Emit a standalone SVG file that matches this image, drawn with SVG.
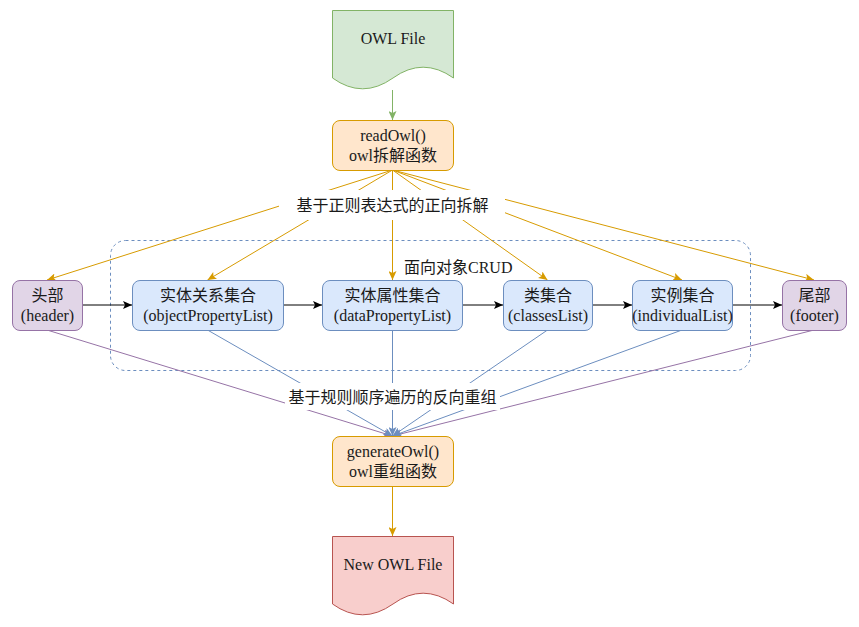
<svg xmlns="http://www.w3.org/2000/svg" width="859" height="627" viewBox="0 0 859 627">
<style>
text{font-family:"Liberation Serif","Noto Sans CJK SC",serif;font-size:16px;fill:#1a1a1a;text-anchor:middle}
.lbl{font-family:"Liberation Serif","Noto Sans CJK SC",sans-serif}
.purple{fill:#e1d5e7;stroke:#9673a6}
.blue{fill:#dae8fc;stroke:#6c8ebf}
.orange{fill:#ffe6cc;stroke:#d79b00}
.green{fill:#d5e8d4;stroke:#82b366}
.red{fill:#f8cecc;stroke:#b85450}
.e{fill:none;stroke-width:1}
</style>
<defs>
<marker id="aG" markerUnits="userSpaceOnUse" markerWidth="9" markerHeight="8" viewBox="0 0 9 8" refX="9" refY="4" orient="auto"><path d="M0,0 L9,4 L0,8 L2,4 Z" fill="#82b366"/></marker>
<marker id="aO" markerUnits="userSpaceOnUse" markerWidth="9" markerHeight="8" viewBox="0 0 9 8" refX="9" refY="4" orient="auto"><path d="M0,0 L9,4 L0,8 L2,4 Z" fill="#d79b00"/></marker>
<marker id="aK" markerUnits="userSpaceOnUse" markerWidth="9" markerHeight="8" viewBox="0 0 9 8" refX="9" refY="4" orient="auto"><path d="M0,0 L9,4 L0,8 L2,4 Z" fill="#000"/></marker>
<marker id="aB" markerUnits="userSpaceOnUse" markerWidth="9" markerHeight="8" viewBox="0 0 9 8" refX="9" refY="4" orient="auto"><path d="M0,0 L9,4 L0,8 L2,4 Z" fill="#6c8ebf"/></marker>
<marker id="aP" markerUnits="userSpaceOnUse" markerWidth="9" markerHeight="8" viewBox="0 0 9 8" refX="9" refY="4" orient="auto"><path d="M0,0 L9,4 L0,8 L2,4 Z" fill="#9673a6"/></marker>
</defs>

<g id="container">
<rect x="110.5" y="240.5" width="640" height="130" rx="15" fill="none" stroke="#6c8ebf" stroke-dasharray="3 3"/>
<text class="lbl" x="404" y="273" style="text-anchor:start">面向对象CRUD</text>
</g>

<g id="connectors">
<line class="e" x1="392.5" y1="90" x2="392.5" y2="120" stroke="#82b366" marker-end="url(#aG)"/>
<g stroke="#d79b00">
<line class="e" x1="392.5" y1="170" x2="47" y2="280" marker-end="url(#aO)"/>
<line class="e" x1="392.5" y1="170" x2="207.5" y2="280" marker-end="url(#aO)"/>
<line class="e" x1="392.5" y1="170" x2="392.5" y2="280" marker-end="url(#aO)"/>
<line class="e" x1="392.5" y1="170" x2="547.5" y2="280" marker-end="url(#aO)"/>
<line class="e" x1="392.5" y1="170" x2="682" y2="280" marker-end="url(#aO)"/>
<line class="e" x1="392.5" y1="170" x2="814" y2="280" marker-end="url(#aO)"/>
<line class="e" x1="392.5" y1="486" x2="392.5" y2="536" marker-end="url(#aO)"/>
</g>
<rect x="279" y="190" width="226" height="30" fill="#fff"/>
<text class="lbl" x="392.5" y="211">基于正则表达式的正向拆解</text>
<g stroke="#000">
<line class="e" x1="82" y1="305" x2="132" y2="305" marker-end="url(#aK)"/>
<line class="e" x1="283" y1="305" x2="322" y2="305" marker-end="url(#aK)"/>
<line class="e" x1="462" y1="305" x2="503" y2="305" marker-end="url(#aK)"/>
<line class="e" x1="592" y1="305" x2="632" y2="305" marker-end="url(#aK)"/>
<line class="e" x1="732" y1="305" x2="782" y2="305" marker-end="url(#aK)"/>
</g>
<line class="e" x1="47" y1="330" x2="392.5" y2="436" stroke="#9673a6" marker-end="url(#aP)"/>
<line class="e" x1="814" y1="330" x2="392.5" y2="436" stroke="#9673a6" marker-end="url(#aP)"/>
<g stroke="#6c8ebf">
<line class="e" x1="207.5" y1="330" x2="392.5" y2="436" marker-end="url(#aB)"/>
<line class="e" x1="392.5" y1="330" x2="392.5" y2="436" marker-end="url(#aB)"/>
<line class="e" x1="547.5" y1="330" x2="392.5" y2="436" marker-end="url(#aB)"/>
<line class="e" x1="682" y1="330" x2="392.5" y2="436" marker-end="url(#aB)"/>
</g>
<rect x="285" y="383" width="215" height="27" fill="#fff"/>
<text class="lbl" x="392.5" y="403">基于规则顺序遍历的反向重组</text>
</g>

<g id="owlFile">
<path class="green" d="M332.5,10.5 H453.5 V78 Q423,56.4 393,78 Q362.5,99.6 332.5,78 Z"/>
<text x="393" y="44">OWL File</text>
</g>
<g id="readOwl">
<rect class="orange" x="332.5" y="120.5" width="121" height="50" rx="7.5"/>
<text x="393" y="141">readOwl()</text>
<text x="393" y="161">owl拆解函数</text>
</g>
<g id="header">
<rect class="purple" x="12.5" y="280.5" width="70" height="50" rx="7.5"/>
<text x="47.5" y="301">头部</text>
<text x="47.5" y="321">(header)</text>
</g>
<g id="objectPropertyList">
<rect class="blue" x="132.5" y="280.5" width="151" height="50" rx="7.5"/>
<text x="208" y="301">实体关系集合</text>
<text x="208" y="321">(objectPropertyList)</text>
</g>
<g id="dataPropertyList">
<rect class="blue" x="322.5" y="280.5" width="140" height="50" rx="7.5"/>
<text x="392.5" y="301">实体属性集合</text>
<text x="392.5" y="321">(dataPropertyList)</text>
</g>
<g id="classesList">
<rect class="blue" x="503.5" y="280.5" width="89" height="50" rx="7.5"/>
<text x="548" y="301">类集合</text>
<text x="548" y="321">(classesList)</text>
</g>
<g id="individualList">
<rect class="blue" x="632.5" y="280.5" width="100" height="50" rx="7.5"/>
<text x="682.5" y="301">实例集合</text>
<text x="682.5" y="321">(individualList)</text>
</g>
<g id="footer">
<rect class="purple" x="782.5" y="280.5" width="64" height="50" rx="7.5"/>
<text x="814.5" y="301">尾部</text>
<text x="814.5" y="321">(footer)</text>
</g>
<g id="generateOwl">
<rect class="orange" x="332.5" y="436.5" width="121" height="50" rx="7.5"/>
<text x="393" y="457">generateOwl()</text>
<text x="393" y="477">owl重组函数</text>
</g>
<g id="newOwlFile">
<path class="red" d="M332.5,536.5 H453.5 V604 Q423,582.4 393,604 Q362.5,625.6 332.5,604 Z"/>
<text x="393" y="570">New OWL File</text>
</g>
</svg>
